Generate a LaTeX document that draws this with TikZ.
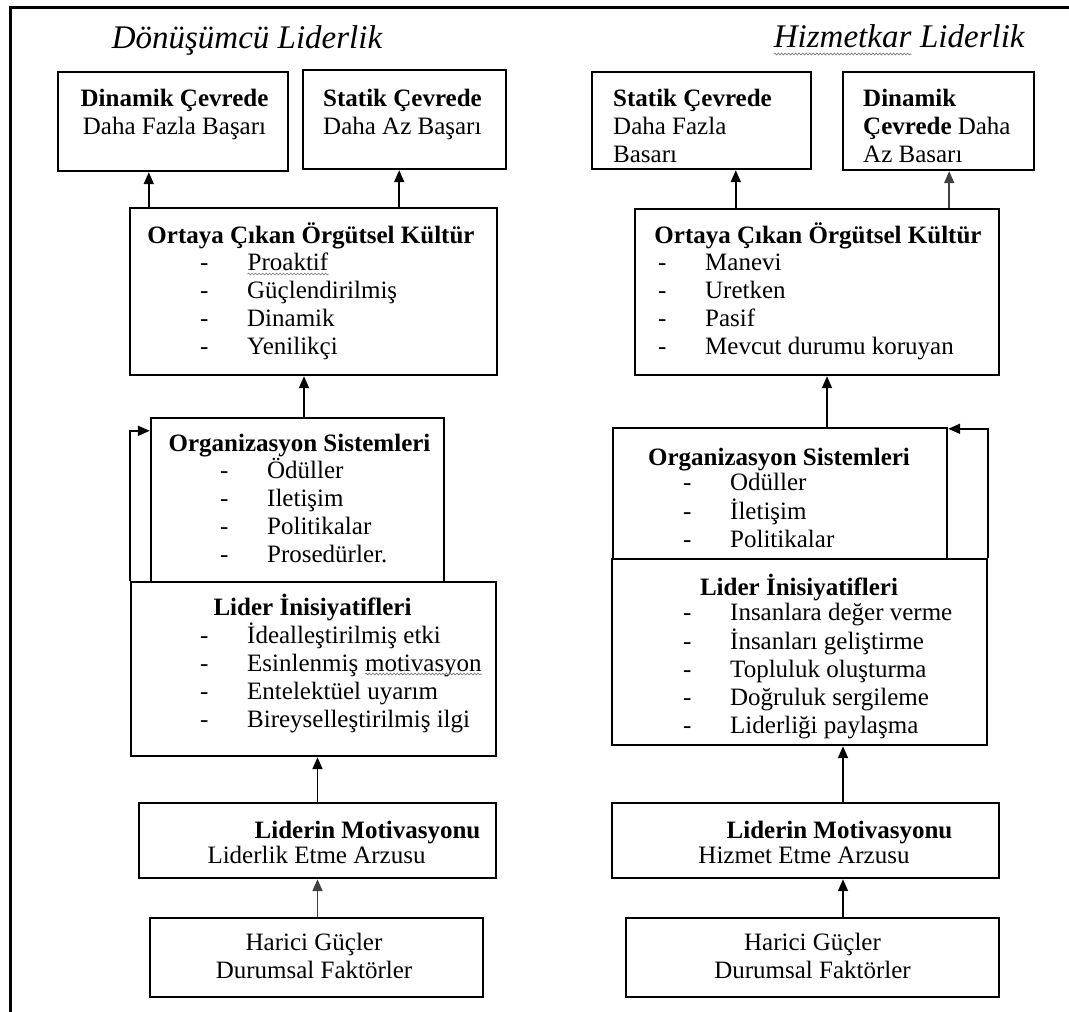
\documentclass[tikz,border=0pt]{standalone}
\usepackage{fontspec}
\setmainfont{Liberation Serif}
\usetikzlibrary{positioning,arrows.meta,calc,decorations.pathmorphing}
\newcommand{\bodyfont}{\fontsize{25}{28}\selectfont}
\newcommand{\titlefont}{\fontsize{33}{38}\selectfont\itshape}
\newcommand{\dashlist}[1]{\begin{tabular}[t]{@{}p{47pt}@{}l@{}}#1\end{tabular}}
\newcommand{\lines}[2][l]{\begin{tabular}[t]{@{}#1@{}}#2\end{tabular}}
\newcommand{\squig}[2][4pt]{\tikz[baseline=(w.base)]{\node[inner sep=0pt,font=,anchor=base] (w) {#2};
  \draw[black!55,line width=0.6pt,decorate,decoration={snake,amplitude=0.9pt,segment length=3.5pt}]
  ([yshift=-#1]w.base west) -- ([yshift=-#1]w.base east);}}

\begin{document}
\begin{tikzpicture}[x=1pt,y=-1pt,font=\bodyfont,
  box/.style={draw,line width=2.4pt,inner sep=0pt},
  hdr/.style={font=\bodyfont\bfseries,inner sep=0pt,anchor=base},
  txt/.style={inner sep=0pt,anchor=base west},
  arr/.style={-{Triangle[width=10pt,length=12pt]},line width=1.8pt}]
\useasboundingbox (0,0) rectangle (1069,1012);
\draw[line width=3pt] (10,1012) -- (10,7) -- (1069,7);

\node[font=\titlefont,inner sep=0pt,anchor=base] (titleL) at (247,48) {Dönüşümcü Liderlik};
\node[font=\titlefont,inner sep=0pt,anchor=base] (titleR) at (899,47) {\squig[7pt]{Hizmetkar} Liderlik};

\node[box,minimum width=230pt,minimum height=99pt] (dynL) at (173,121.5) {};
\node[box,minimum width=203pt,minimum height=99pt] (statL) at (404.5,119.5) {};
\node[box,minimum width=367pt,minimum height=167pt] (cultL) at (313.5,291.5) {};
\node[box,minimum width=293pt,minimum height=164pt] (orgL) at (297.5,500) {};
\node[box,minimum width=365pt,minimum height=174pt] (liderL) at (313.5,669) {};
\node[box,minimum width=357pt,minimum height=75pt] (motivL) at (317.5,840.5) {};
\node[box,minimum width=333pt,minimum height=79pt] (hariciL) at (316.5,957.5) {};

\node[box,minimum width=219pt,minimum height=97pt] (statR) at (701.5,120.5) {};
\node[box,minimum width=191pt,minimum height=98pt] (dynR) at (938.5,121) {};
\node[box,minimum width=364pt,minimum height=166pt] (cultR) at (817,292) {};
\node[box,minimum width=334pt,minimum height=131pt] (orgR) at (780,493.5) {};
\node[box,minimum width=375pt,minimum height=186pt] (liderR) at (799.5,652) {};
\node[box,minimum width=387pt,minimum height=75pt] (motivR) at (805.5,840.5) {};
\node[box,minimum width=373pt,minimum height=79pt] (hariciR) at (812.5,957.5) {};

\node[inner sep=0pt,anchor=base] (dynLt) at (174.5,106) {\lines[c]{\textbf{Dinamik Çevrede}\\Daha Fazla Başarı}};
\node[txt] (statLt) at (323,106) {\lines{\textbf{Statik Çevrede}\\Daha Az Başarı}};
\node[hdr] (cultLh) at (311,243) {Ortaya Çıkan Örgütsel Kültür};
\node[txt] (cultLt) at (200,270) {\dashlist{- & \squig{Proaktif}\\- & Güçlendirilmiş\\- & Dinamik\\- & Yenilikçi}};
\node[hdr] (orgLh) at (299.5,451) {Organizasyon Sistemleri};
\node[txt] (orgLt) at (220,478) {\dashlist{- & Ödüller\\- & Iletişim\\- & Politikalar\\- & Prosedürler.}};
\node[hdr] (liderLh) at (312.5,615) {Lider İnisiyatifleri};
\node[txt] (liderLt) at (200,643) {\dashlist{- & İdealleştirilmiş etki\\- & Esinlenmiş \squig[3pt]{motivasyon}\\- & Entelektüel uyarım\\- & Bireyselleştirilmiş ilgi}};
\node[hdr] (motivLh) at (367.5,838) {Liderin Motivasyonu};
\node[inner sep=0pt,anchor=base] (motivLt) at (316.5,863) {Liderlik Etme Arzusu};
\node[inner sep=0pt,anchor=base] (hariciLt) at (314,950) {\lines[c]{Harici Güçler\\Durumsal Faktörler}};

\node[txt] (statRt) at (613,106) {\lines{\textbf{Statik Çevrede}\\Daha Fazla\\Basarı}};
\node[txt] (dynRt) at (863,106) {\lines{\textbf{Dinamik}\\\textbf{Çevrede} Daha\\Az Basarı}};
\node[hdr] (cultRh) at (818,243) {Ortaya Çıkan Örgütsel Kültür};
\node[txt] (cultRt) at (658,270) {\dashlist{- & Manevi\\- & Uretken\\- & Pasif\\- & Mevcut durumu koruyan}};
\node[hdr] (orgRh) at (779,465) {Organizasyon Sistemleri};
\node[txt] (orgRt) at (683,490) {\dashlist{- & Odüller\\- & İletişim\\- & Politikalar}};
\node[hdr] (liderRh) at (799,595) {Lider İnisiyatifleri};
\node[txt] (liderRt) at (683,620) {\dashlist{- & Insanlara değer verme\\- & İnsanları geliştirme\\- & Topluluk oluşturma\\- & Doğruluk sergileme\\- & Liderliği paylaşma}};
\node[hdr] (motivRh) at (839.5,838) {Liderin Motivasyonu};
\node[inner sep=0pt,anchor=base] (motivRt) at (804,863) {Hizmet Etme Arzusu};
\node[inner sep=0pt,anchor=base] (hariciRt) at (812.5,950) {\lines[c]{Harici Güçler\\Durumsal Faktörler}};

\coordinate (cLa) at ([xshift=20pt]cultL.north west);
\coordinate (cLb) at ([xshift=-99pt]cultL.north east);
\coordinate (oL) at ([xshift=6.5pt]orgL.north);
\draw[arr] (cLa) -- (cLa |- dynL.south);
\draw[arr] (cLb) -- (cLb |- statL.south);
\draw[arr] (oL) -- (oL |- cultL.south);
\draw[arr] (liderL.north west) |- ([yshift=-14pt]orgL.north west);
\draw[arr] (motivL.north) -- (motivL.north |- liderL.south);
\draw[arr,draw=black!75] (motivL.south |- hariciL.north) -- (motivL.south);

\coordinate (cRa) at ([xshift=102pt]cultR.north west);
\coordinate (cRb) at ([xshift=-51pt]cultR.north east);
\coordinate (oR) at ([xshift=47pt]orgR.north);
\coordinate (mR) at ([xshift=37.5pt]motivR.north);
\coordinate (hR) at ([xshift=30.5pt]hariciR.north);
\draw[arr] (cRa) -- (cRa |- statR.south);
\draw[arr,draw=black!75] (cRb) -- (cRb |- dynR.south);
\draw[arr] (oR) -- (oR |- cultR.south);
\draw[arr] (liderR.north east) |- ([yshift=-2pt]orgR.north east);
\draw[arr] (mR) -- (mR |- liderR.south);
\draw[arr] (hR) -- (hR |- motivR.south);
\end{tikzpicture}
\end{document}
